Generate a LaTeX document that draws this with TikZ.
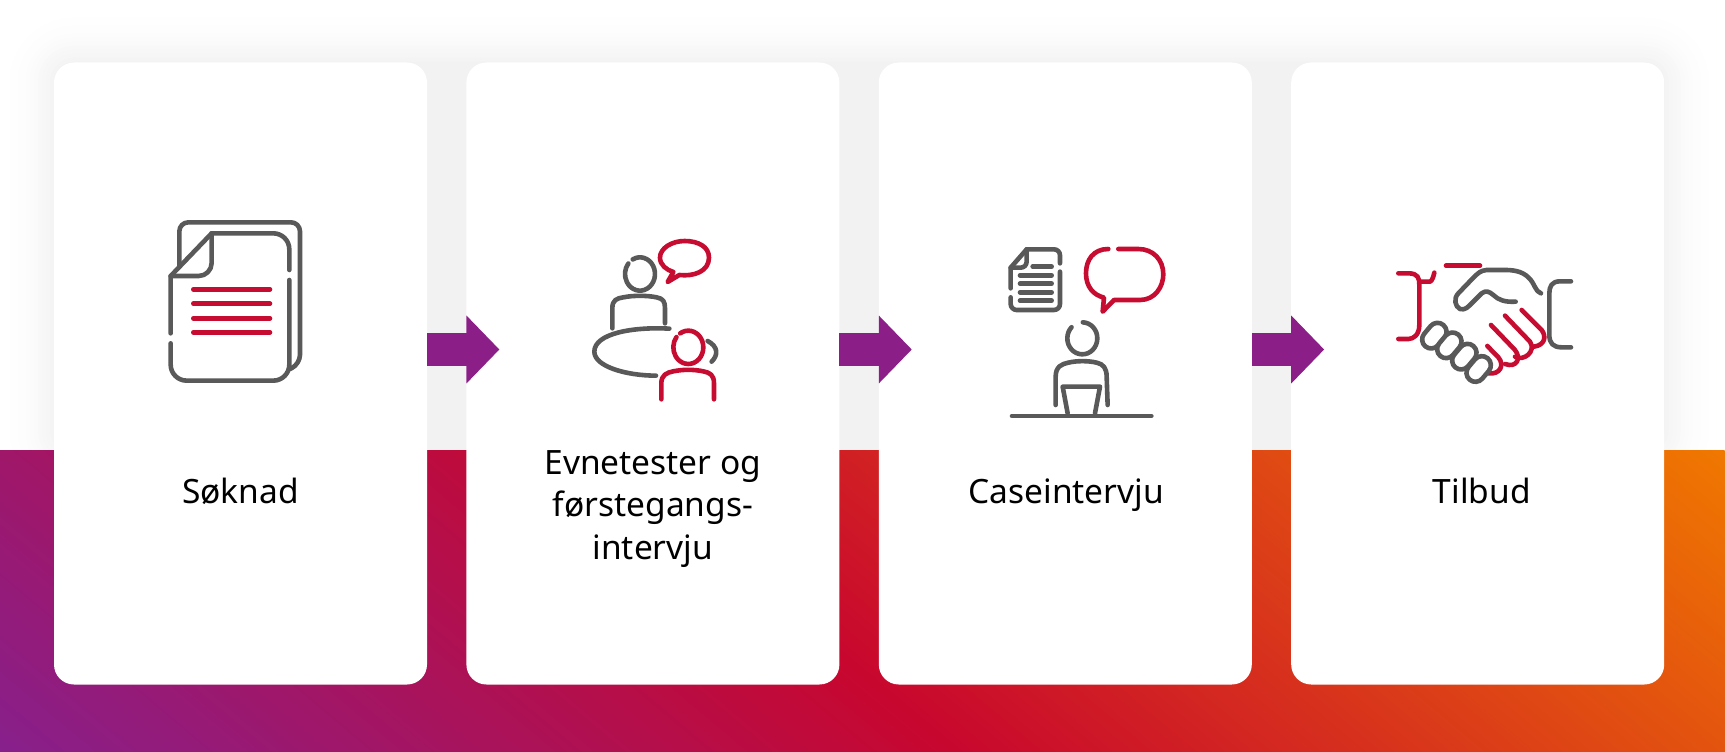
\documentclass[tikz,border=0pt]{standalone}
\usepackage{fontspec}
\setmainfont{Noto Sans}
\usetikzlibrary{arrows.meta,positioning}
\definecolor{iconred}{HTML}{C60C30}
\definecolor{icongrey}{HTML}{595959}
\definecolor{flowpurple}{HTML}{8B1F87}
\definecolor{bandpurple}{HTML}{87208C}
\definecolor{bandred}{HTML}{C8072E}
\definecolor{bandorange}{HTML}{F07800}
\pgfdeclarehorizontalshading{bandshade}{100bp}{color(0bp)=(bandpurple); color(25bp)=(bandpurple); color(48bp)=(bandred); color(75bp)=(bandorange); color(100bp)=(bandorange)}
\tikzset{
    %Define style for boxes
    card/.style={
           rectangle,
           rounded corners=20pt,
           fill=white,
           minimum width=373pt,
           minimum height=622pt,
           inner sep=0pt,
           outer sep=0pt},
    steplabel/.style={
           align=center,
           anchor=base,
           inner sep=0pt,
           font=\fontsize{33.5}{42.5}\selectfont},
    % Define arrow style
    flow/.style={
           -{Triangle[length=33pt,width=66pt]},
           line width=33pt,
           draw=flowpurple},
    % Define icon strokes
    greyline/.style={
           draw=icongrey,
           line width=4.6pt,
           line cap=round,
           line join=round},
    redline/.style={
           draw=iconred,
           line width=4.6pt,
           line cap=round,
           line join=round},
    icon/.style={x=.3333pt,y=-.3333pt}
}
\begin{document}
\begin{tikzpicture}[x=1pt,y=-1pt,node distance=39.4pt]
\useasboundingbox (0,0) rectangle (1725,752);
% soft shadow behind the cards
\foreach \r in {52,48,...,0}{
  \pgfmathsetmacro{\p}{5*(1-\r/56)*(1-\r/56)}
  \fill[black!\p!white,rounded corners=20pt+\r*1pt] (54-\r,62-\r) rectangle (1664.5+\r,450+\r);
}
% colour band
\begin{scope}
  \clip (0,450) rectangle (1725,752);
  \begin{scope}[transform canvas={rotate around={50:(862,601)}}]
    \shade[shading=bandshade] (192,-899) rectangle (1532,2101);
  \end{scope}
\end{scope}
% cards
\node[card] (card1) at (240.5,373.5) {};
\node[card, right=of card1] (card2) {};
\node[card, right=of card2] (card3) {};
\node[card, right=of card3] (card4) {};
% labels
\node[steplabel] (label1) at ([yshift=-130pt]card1.center) {Søknad};
\node[steplabel] (label2) at ([yshift=-185.5pt]card2.center) {Evnetester og\\førstegangs-\\intervju};
\node[steplabel] (label3) at ([xshift=1pt,yshift=-130pt]card3.center) {Caseintervju};
\node[steplabel] (label4) at ([xshift=4pt,yshift=-130pt]card4.center) {Tilbud};
% arrows
\draw[flow] ([yshift=24pt]card1.east) -- ([yshift=24pt,xshift=33pt]card2.west);
\draw[flow] ([yshift=24pt]card2.east) -- ([yshift=24pt,xshift=33pt]card3.west);
\draw[flow] ([yshift=24pt]card3.east) -- ([yshift=24pt,xshift=33pt]card4.west);
% document icon
\begin{scope}[shift={(130,190)},icon]
  \draw[greyline,rounded corners=9pt] (148,228) -- (148,97) -- (510,97) -- (510,522) -- (480,537);
  \draw[greyline,rounded corners=16pt] (245,130) -- (478,130) -- (478,240);
  \draw[greyline,rounded corners=16pt] (478,270) -- (478,572) -- (122,572) -- (122,460);
  \draw[greyline] (122,430) -- (122,258) -- (245,130);
  \draw[greyline,rounded corners=13pt] (245,130) -- (245,258) -- (122,258);
  \foreach \y in {298,341,385,427}
    \draw[redline] (190,\y) -- (420,\y);
\end{scope}
% meeting icon
\begin{scope}[shift={(560,210)},icon]
  \draw[redline] (358,195) .. controls (400,200) and (447,185) .. (447,143) .. controls (447,110) and (415,93) .. (374,93) .. controls (335,93) and (300,115) .. (300,143) .. controls (300,165) and (320,180) .. (340,186) -- (323,216) -- cycle;
  \draw[greyline] (240,192) ++(-119:45 and 50) arc[start angle=-119,end angle=219,x radius=45,y radius=50];
  \draw[greyline] (157,355) -- (157,295) .. controls (157,270) and (170,265) .. (190,262) .. controls (220,256) and (260,256) .. (290,262) .. controls (310,266) and (315,275) .. (315,295) -- (315,340);
  \draw[greyline] (328,356) .. controls (220,350) and (103,370) .. (103,425) .. controls (103,470) and (200,497) .. (288,497);
  \draw[redline] (385,412) ++(-123:45 and 50) arc[start angle=-123,end angle=218,x radius=45,y radius=50];
  \draw[redline] (304,568) -- (304,520) .. controls (304,495) and (320,488) .. (340,484) .. controls (370,478) and (400,478) .. (430,484) .. controls (450,488) and (462,495) .. (462,520) -- (462,568);
  \draw[greyline] (443,393) .. controls (475,410) and (475,435) .. (455,455);
\end{scope}
% case icon
\begin{scope}[shift={(990,220)},icon]
  \draw[greyline,rounded corners=6pt] (110,88) -- (210,88) -- (210,130);
  \draw[greyline,rounded corners=6pt] (210,155) -- (210,270) -- (62,270) -- (62,232);
  \draw[greyline] (62,205) -- (62,143) -- (110,88);
  \draw[greyline,rounded corners=6pt] (110,88) -- (110,143) -- (62,143);
  \draw[greyline] (128,140) -- (185,140);
  \foreach \y in {166,191,217,242}
    \draw[greyline] (90,\y) -- (185,\y);
  \draw[redline] (355,87) .. controls (310,87) and (288,120) .. (288,160) .. controls (288,200) and (310,225) .. (342,233) -- (338,275) -- (372,240) -- (450,240) .. controls (495,240) and (520,200) .. (520,163) .. controls (520,120) and (490,87) .. (445,87) -- (385,87);
  \draw[greyline] (277,355) ++(-88:45 and 48) arc[start angle=-88,end angle=224,x radius=45,y radius=48];
  \draw[greyline] (197,555) -- (197,470) .. controls (197,440) and (215,432) .. (235,428) .. controls (260,422) and (295,422) .. (320,428) .. controls (340,432) and (350,445) .. (350,470) -- (353,555);
  \draw[greyline] (233,580) -- (218,500) -- (330,500) -- (315,580);
  \draw[greyline] (66,588) -- (484,588);
\end{scope}
% handshake icon
\begin{scope}[shift={(1380,240)},icon]
  \draw[redline] (55,100) -- (85,100) .. controls (115,100) and (118,115) .. (118,135) -- (118,255) .. controls (118,285) and (100,297) .. (85,297) -- (55,297);
  \draw[redline] (118,125) -- (150,125) .. controls (157,122) and (160,110) .. (163,98);
  \draw[redline] (198,77) -- (300,77);
  \draw[greyline] (573,124) -- (540,124) .. controls (515,124) and (508,140) .. (508,160) -- (508,285) .. controls (508,310) and (520,322) .. (545,322) -- (573,322);
  \draw[greyline] (483,160) .. controls (465,155) and (465,130) .. (445,112) .. controls (425,92) and (395,90) .. (375,90) -- (320,90) .. controls (300,92) and (295,100) .. (285,108) -- (235,160) .. controls (220,175) and (225,200) .. (240,207) .. controls (255,212) and (265,200) .. (275,190) -- (305,160) .. controls (318,150) and (328,155) .. (340,165) .. controls (355,180) and (375,187) .. (407,185);
  \draw[redline] (425,210) -- (485,270) .. controls (500,290) and (495,315) .. (462,320);
  \draw[redline] (375,227) -- (450,305) .. controls (470,335) and (430,365) .. (405,350);
  \draw[redline] (333,255) -- (405,330) .. controls (425,355) and (410,385) .. (375,372);
  \draw[redline] (322,318) -- (355,352) .. controls (375,375) and (360,405) .. (325,400);
  \foreach \cx/\cy in {163/287,208/316,253/350,296/387}
    \draw[greyline,fill=white,shift={(\cx,\cy)},rotate=50,rounded corners=9pt] (-42,-27) rectangle (42,27);
\end{scope}
\end{tikzpicture}
\end{document}
